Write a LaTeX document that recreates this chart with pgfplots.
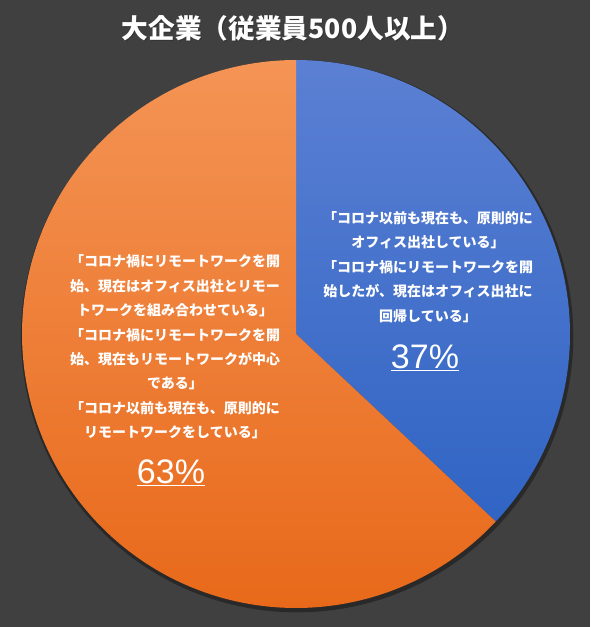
\documentclass[border=0pt]{standalone}
\usepackage{pgfplots}
\pgfplotsset{compat=1.18}
\usepackage{pgfplotstable}
\usepackage{fontspec}
\setmainfont{Noto Sans CJK JP}
\newfontfamily\pctfont{Liberation Sans}
\definecolor{bgc}{HTML}{404040}
\definecolor{bluetop}{HTML}{5B80D3}
\definecolor{bluebot}{HTML}{3064C4}
\definecolor{orgtop}{HTML}{F49455}
\definecolor{orgbot}{HTML}{E8691A}
\pgfplotstableread{
label value
office 37
remote 63
}\piedata
\begin{document}
\begin{tikzpicture}
\begin{scope}[x=0.75pt,y=0.75pt]
\fill[bgc] (0,0) rectangle (590,627);
\end{scope}
\pgfplotstablegetelem{0}{value}\of\piedata \let\va\pgfplotsretval
\pgfplotstablegetelem{1}{value}\of\piedata \let\vb\pgfplotsretval
\pgfmathsetmacro{\aend}{90-3.6*\va}
\pgfmathsetmacro{\bend}{\aend-3.6*\vb}
\begin{axis}[
  at={(222pt,219.75pt)}, anchor=center,
  scale only axis, width=411pt, height=411pt,
  xmin=-1, xmax=1, ymin=-1, ymax=1,
  hide axis, clip=false]
% soft shadow
\addplot[draw=none, fill=black, fill opacity=0.35, domain=0:360, samples=180, smooth]
  ({1.008*cos(x)+0.004},{1.008*sin(x)-0.008}) -- cycle;
\addplot[draw=none, top color=bluetop, bottom color=bluebot, domain=90:\aend, samples=120]
  ({cos(x)},{sin(x)}) -- (0,0) -- cycle;
\addplot[draw=none, top color=orgtop, bottom color=orgbot, domain=\aend:\bend, samples=200]
  ({cos(x)},{sin(x)}) -- (0,0) -- cycle;
\end{axis}
\begin{scope}[x=0.75pt,y=0.75pt]
% title
\node[text=black!80, font=\fontsize{20}{24}\selectfont\bfseries] at (294,598) {大企業（従業員500人以上）};
\node[text=white, font=\fontsize{20}{24}\selectfont\bfseries] at (293,599) {大企業（従業員500人以上）};
% blue label
\node[text=white, align=center, font=\fontsize{10.5}{18.3}\selectfont\bfseries] at (428,360)
 {「コロナ以前も現在も、原則的に\\オフィス出社している」\\「コロナ禍にリモートワークを開\\始したが、現在はオフィス出社に\\回帰している」};
\node[text=white, font=\pctfont\fontsize{25.5}{30}\selectfont] at (425,269) {\underline{37\%}};
% orange label
\node[text=white, align=center, font=\fontsize{10.5}{18.3}\selectfont\bfseries] at (175,280)
 {「コロナ禍にリモートワークを開\\始、現在はオフィス出社とリモー\\トワークを組み合わせている」\\「コロナ禍にリモートワークを開\\始、現在もリモートワークが中心\\である」\\「コロナ以前も現在も、原則的に\\リモートワークをしている」};
\node[text=white, font=\pctfont\fontsize{25.5}{30}\selectfont] at (171,154) {\underline{63\%}};
\end{scope}
\end{tikzpicture}
\end{document}
